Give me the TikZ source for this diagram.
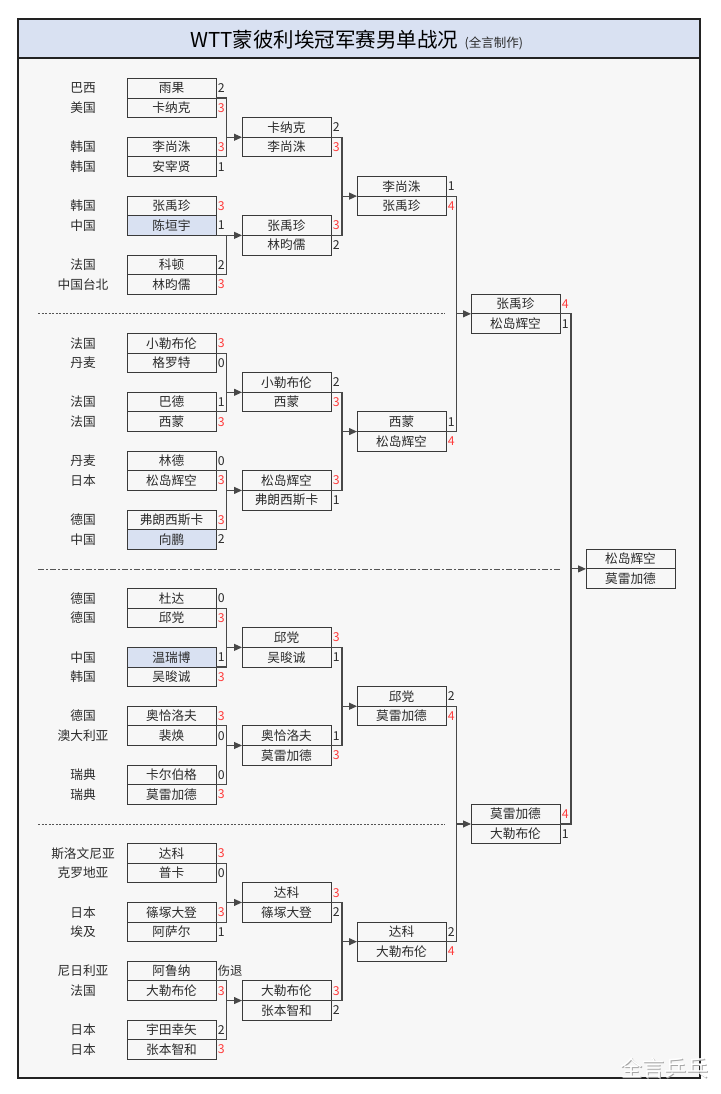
\documentclass[tikz,border=0pt]{standalone}
\usepackage{fontspec}
\setmainfont{Noto Sans CJK SC}
\usetikzlibrary{arrows.meta,calc}
\definecolor{hl}{HTML}{D9E1F2}
\definecolor{bgc}{HTML}{F7F7F7}
\definecolor{ink}{HTML}{2B2B2B}
\definecolor{boxc}{HTML}{3A3A3A}
\definecolor{winc}{HTML}{FF3D3D}
\definecolor{linec}{HTML}{484848}
\definecolor{framec}{HTML}{222222}
\definecolor{sepc}{HTML}{555555}
\newcommand\jn[4]{%
  \draw[conn] (#1.south east) -- ++(#4,0) coordinate (j#1) |- (#2.south east);
  \draw[arr] (j#1 |- #3.south west) -- (#3.south west);}
\begin{document}
\begin{tikzpicture}[x=1pt,y=-1pt,
  cellbox/.style={draw=boxc,line width=0.9pt,minimum width=89pt,minimum height=19.62pt,inner sep=0pt,outer sep=0pt,anchor=north west,text=ink,font=\fontsize{12.7}{14}\selectfont},
  country/.style={text=ink,font=\fontsize{12.7}{14}\selectfont,inner sep=0pt},
  score/.style={anchor=west,inner sep=0pt,font=\fontsize{12.3}{14}\selectfont},
  winsc/.style={text=winc}, losesc/.style={text=ink},
  conn/.style={draw=linec,line width=1.1pt},
  arr/.style={conn,-{Triangle[length=8pt,width=7pt]}},
  sepline/.style={draw=sepc,line width=0.8pt}]
\useasboundingbox (0,0) rectangle (720,1094);
\fill[white] (0,0) rectangle (720,1094);
\fill[bgc] (18,19) rectangle (700,1078);
\fill[hl] (18,19) rectangle (700,58);
\draw[framec,line width=1.2pt] (18,58) -- (700,58);
\draw[framec,line width=1.6pt] (18,19) rectangle (700,1078);
% title
\node[anchor=west,inner sep=0pt,text=black,font=\fontsize{20.5}{23}\selectfont] (title) at (190,39.5) {WTT蒙彼利埃冠军赛男单战况};
\node[anchor=base west,inner sep=0pt,text=ink,font=\fontsize{12.5}{14}\selectfont] (note) at ([xshift=6pt]title.base east) {(全言制作)};
% separators
\coordinate (sa1) at (38,{78.4+19.62*12}); \coordinate (sa2) at (445,{78.4+19.62*12});
\coordinate (sb1) at (38,{78.4+19.62*25}); \coordinate (sb2) at (561,{78.4+19.62*25});
\coordinate (sc1) at (38,{78.4+19.62*38}); \coordinate (sc2) at (445,{78.4+19.62*38});
\draw[sepline,dash pattern=on 2pt off 1.5pt] (sa1) -- (sa2);
\draw[sepline,dash pattern=on 6pt off 2pt on 2pt off 2pt] (sb1) -- (sb2);
\draw[sepline,dash pattern=on 2pt off 1.5pt] (sc1) -- (sc2);
% round 1
\foreach \id/\r/\cty/\nm/\sc/\st/\fl in {
 a1/0/巴西/雨果/2/losesc/bgc, a2/1/美国/卡纳克/3/winsc/bgc,
 a3/3/韩国/李尚洙/3/winsc/bgc, a4/4/韩国/安宰贤/1/losesc/bgc,
 a5/6/韩国/张禹珍/3/winsc/bgc, a6/7/中国/陈垣宇/1/losesc/hl,
 a7/9/法国/科顿/2/losesc/bgc, a8/10/中国台北/林昀儒/3/winsc/bgc,
 b1/13/法国/小勒布伦/3/winsc/bgc, b2/14/丹麦/格罗特/0/losesc/bgc,
 b3/16/法国/巴德/1/losesc/bgc, b4/17/法国/西蒙/3/winsc/bgc,
 b5/19/丹麦/林德/0/losesc/bgc, b6/20/日本/松岛辉空/3/winsc/bgc,
 b7/22/德国/弗朗西斯卡/3/winsc/bgc, b8/23/中国/向鹏/2/losesc/hl,
 c1/26/德国/杜达/0/losesc/bgc, c2/27/德国/邱党/3/winsc/bgc,
 c3/29/中国/温瑞博/1/losesc/hl, c4/30/韩国/吴晙诚/3/winsc/bgc,
 c5/32/德国/奥恰洛夫/3/winsc/bgc, c6/33/澳大利亚/裴焕/0/losesc/bgc,
 c7/35/瑞典/卡尔伯格/0/losesc/bgc, c8/36/瑞典/莫雷加德/3/winsc/bgc,
 d1/39/斯洛文尼亚/达科/3/winsc/bgc, d2/40/克罗地亚/普卡/0/losesc/bgc,
 d3/42/日本/篠塚大登/3/winsc/bgc, d4/43/埃及/阿萨尔/1/losesc/bgc,
 d5/45/尼日利亚/阿鲁纳/伤退/losesc/bgc, d6/46/法国/大勒布伦/3/winsc/bgc,
 d7/48/日本/宇田幸矢/2/losesc/bgc, d8/49/日本/张本智和/3/winsc/bgc}{
  \node[cellbox,fill=\fl] (\id) at (127,{78.4+19.62*\r}) {\nm};
  \node[country] (k\id) at (83,{78.4+19.62*(\r+0.5)}) {\cty};
  \node[score,\st] (s\id) at ([xshift=1.6pt]\id.east) {\sc};
}
% round 2
\foreach \id/\r/\nm/\sc/\st in {
 a21/2/卡纳克/2/losesc, a22/3/李尚洙/3/winsc, a23/7/张禹珍/3/winsc, a24/8/林昀儒/2/losesc,
 b21/15/小勒布伦/2/losesc, b22/16/西蒙/3/winsc, b23/20/松岛辉空/3/winsc, b24/21/弗朗西斯卡/1/losesc,
 c21/28/邱党/3/winsc, c22/29/吴晙诚/1/losesc, c23/33/奥恰洛夫/1/losesc, c24/34/莫雷加德/3/winsc,
 d21/41/达科/3/winsc, d22/42/篠塚大登/2/losesc, d23/46/大勒布伦/3/winsc, d24/47/张本智和/2/losesc}{
  \node[cellbox,fill=bgc] (\id) at (242,{78.4+19.62*\r}) {\nm};
  \node[score,\st] (s\id) at ([xshift=1.6pt]\id.east) {\sc};
}
% round 3
\foreach \id/\r/\nm/\sc/\st in {
 a31/5/李尚洙/1/losesc, a32/6/张禹珍/4/winsc,
 b31/17/西蒙/1/losesc, b32/18/松岛辉空/4/winsc,
 c31/31/邱党/2/losesc, c32/32/莫雷加德/4/winsc,
 d31/43/达科/2/losesc, d32/44/大勒布伦/4/winsc}{
  \node[cellbox,fill=bgc] (\id) at (357,{78.4+19.62*\r}) {\nm};
  \node[score,\st] (s\id) at ([xshift=1.6pt]\id.east) {\sc};
}
% semifinal
\foreach \id/\r/\nm/\sc/\st in {
 e1/11/张禹珍/4/winsc, e2/12/松岛辉空/1/losesc,
 e3/37/莫雷加德/4/winsc, e4/38/大勒布伦/1/losesc}{
  \node[cellbox,fill=bgc] (\id) at (471,{78.4+19.62*\r}) {\nm};
  \node[score,\st] (s\id) at ([xshift=1.6pt]\id.east) {\sc};
}
% final
\node[cellbox,fill=bgc] (f1) at (586,{78.4+19.62*24}) {松岛辉空};
\node[cellbox,fill=bgc] (f2) at (586,{78.4+19.62*25}) {莫雷加德};
% connectors
\jn{a1}{a3}{a21}{10.5} \jn{a6}{a7}{a23}{10.5}
\jn{b1}{b3}{b21}{10.5} \jn{b5}{b7}{b23}{10.5}
\jn{c1}{c3}{c21}{10.5} \jn{c5}{c7}{c23}{10.5}
\jn{d1}{d3}{d21}{10.5} \jn{d5}{d7}{d23}{10.5}
\jn{a21}{a23}{a31}{11} \jn{b21}{b23}{b31}{11}
\jn{c21}{c23}{c31}{11} \jn{d21}{d23}{d31}{11}
\jn{a31}{b31}{e1}{10.5} \jn{c31}{d31}{e3}{10.5}
\jn{e1}{e3}{f1}{11}
% watermark
\node[inner sep=0pt,text=black!35,font=\fontsize{22}{24}\selectfont] (wm0) at (665.6,1068.6) {全言乒乓};
\node[inner sep=0pt,text=white,font=\fontsize{22}{24}\selectfont] (wm) at (664.8,1067.8) {全言乒乓};
\end{tikzpicture}
\end{document}
